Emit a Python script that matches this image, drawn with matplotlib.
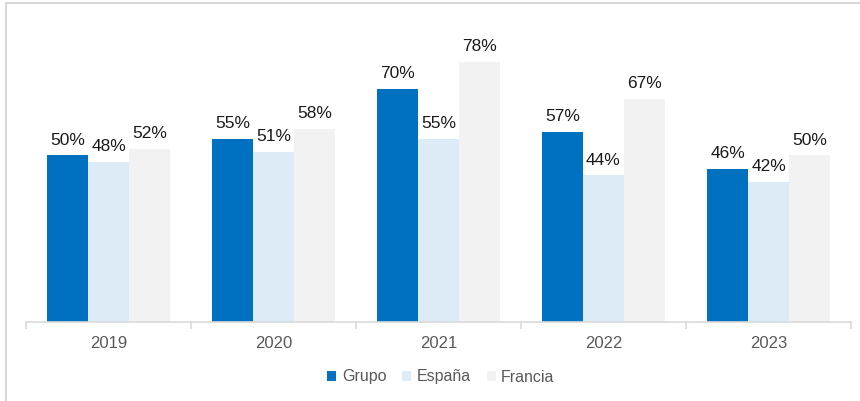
import matplotlib
matplotlib.use("Agg")
import matplotlib.pyplot as plt
import numpy as np
from matplotlib.patches import Rectangle

years = ["2019", "2020", "2021", "2022", "2023"]
grupo = [50, 55, 70, 57, 46]
espana = [48, 51, 55, 44, 42]
francia = [52, 58, 78, 67, 50]
series_names = ["Grupo", "España", "Francia"]
colors = ["#0070C0", "#DDEBF7", "#F2F2F2"]

plt.rcParams['font.family'] = ['Liberation Sans', 'DejaVu Sans']

W, H = 860, 401
fig = plt.figure(figsize=(W/100, H/100), dpi=100)
ax = fig.add_axes([26/W, 1-322/H, (851-26)/W, (322-22)/H])

x = np.arange(len(years))
bw = 0.248
for i, (vals, name, c) in enumerate(zip([grupo, espana, francia], series_names, colors)):
    pos = x + (i-1)*bw
    ax.bar(pos, vals, bw, color=c, label=name, linewidth=0)
    for p, v in zip(pos, vals):
        ax.annotate(f"{v}%", (p, v), xytext=(0, 5.5), textcoords="offset points",
                    ha="center", va="bottom", fontsize=12.5, color="#1a1a1a")

ax.set_xlim(-0.5, len(years)-0.5)
ax.set_ylim(0, 90)
ax.set_yticks([])
for s in ["top", "right", "left"]:
    ax.spines[s].set_visible(False)
ax.spines["bottom"].set_color("#D9D9D9")
ax.spines["bottom"].set_linewidth(1.2)
ax.set_xticks(x)
ax.set_xticklabels(years, fontsize=12, color="#595959")
ax.tick_params(axis="x", length=0, pad=10)
ax.set_xticks(np.arange(-0.5, len(years)), minor=True)
ax.tick_params(axis="x", which="minor", length=5, color="#D9D9D9", width=1.2)

leg = fig.legend(loc="center", bbox_to_anchor=(441/W, 1-377/H), ncol=3, frameon=False,
                 fontsize=11.5, handlelength=0.55, handleheight=0.55, handletextpad=0.35,
                 columnspacing=1.0)
for t in leg.get_texts():
    t.set_color("#595959")

fig.patches.append(Rectangle((6/W, -0.1), 1.2, 1-2.5/H+0.1, transform=fig.transFigure,
                             fill=False, edgecolor="#D9D9D9", linewidth=1.5))

fig.savefig("out.png", dpi=100)
